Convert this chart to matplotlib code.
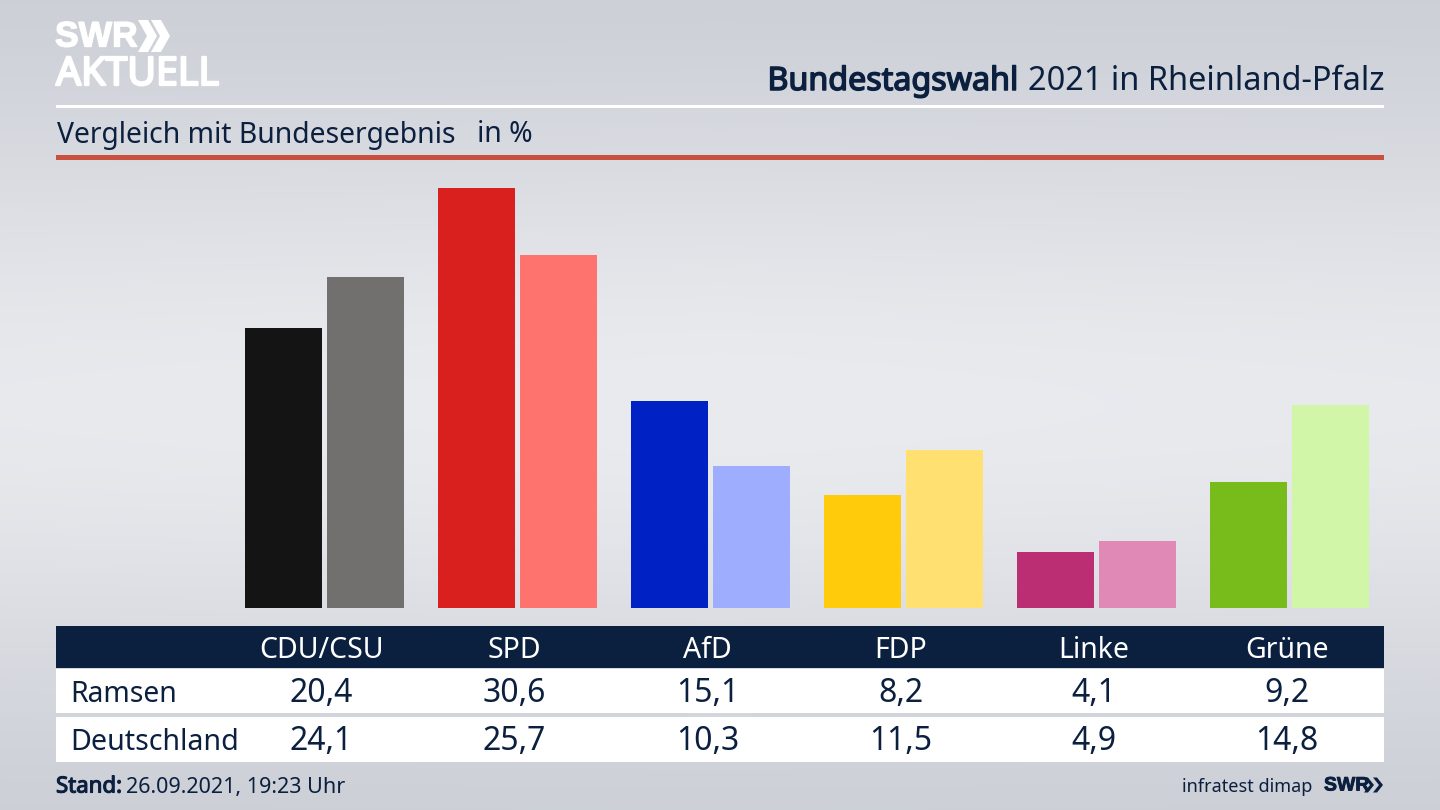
import numpy as np
import matplotlib as mpl
mpl.use("Agg")
from matplotlib import pyplot as plt
from matplotlib import patheffects as pe
from matplotlib.patches import Polygon, Rectangle

parties = ["CDU/CSU", "SPD", "AfD", "FDP", "Linke", "Grüne"]
ramsen = [20.4, 30.6, 15.1, 8.2, 4.1, 9.2]
deutschland = [24.1, 25.7, 10.3, 11.5, 4.9, 14.8]
ramsen_labels = ["20,4", "30,6", "15,1", "8,2", "4,1", "9,2"]
deutschland_labels = ["24,1", "25,7", "10,3", "11,5", "4,9", "14,8"]
colors_dark = ["#141414", "#d9201f", "#0021c4", "#ffcb0a", "#bb2e74", "#78bc1b"]
colors_light = ["#72706e", "#ff736e", "#9fadff", "#ffe070", "#e088b6", "#d2f6a8"]

NAVY = "#0b1f3f"
plt.rcParams['font.family'] = ['Noto Sans', 'DejaVu Sans']

W, H = 1440, 810
fig = plt.figure(figsize=(14.4, 8.1), dpi=100)


def fat(width, color):
    # Noto Sans kommt hier nur in normal, also fett per Kontur
    return [pe.withStroke(linewidth=width, foreground=color)]


# Hintergrund und alles ausser den Balken in Pixelkoordinaten
bg = fig.add_axes([0, 0, 1, 1])
bg.axis("off")
yy = np.linspace(0, 1, 270)[:, None]
xx = np.linspace(0, 1, 480)[None, :]
shade = np.exp(-((yy - 0.5) / 0.36) ** 2) * (1 - 0.12 * np.abs(xx - 0.5))
low = np.array([0xc8, 0xcc, 0xd3]) / 255
high = np.array([0xea, 0xeb, 0xef]) / 255
grad = low + shade[:, :, None] * (high - low)
bg.imshow(grad, extent=[0, W, H, 0], aspect="auto", zorder=0)

# Balken
px_per_group = 193.0
px_per_unit = 13.74
x0 = 324.8
y0 = 608
ax = fig.add_axes([0, 0, 1, 1])
ax.patch.set_alpha(0)
ax.axis("off")
ax.set_xlim(-x0 / px_per_group, (W - x0) / px_per_group)
ax.set_ylim(-(H - y0) / px_per_unit, y0 / px_per_unit)
pos = np.arange(len(parties))
bw = 77 / px_per_group
off = 41 / px_per_group
ax.bar(pos - off, ramsen, bw, color=colors_dark)
ax.bar(pos + off, deutschland, bw, color=colors_light)

# Kopf
over = fig.add_axes([0, 0, 1, 1])
over.patch.set_alpha(0)
over.axis("off")
over.set_xlim(0, W)
over.set_ylim(H, 0)

over.add_patch(Rectangle((56, 104.5), 1328, 3, color="white", lw=0))
over.add_patch(Rectangle((56, 155), 1328, 5, color="#c9503f", lw=0))

t2 = over.text(1384, 81.5, "2021 in Rheinland-Pfalz", ha="right", va="center", fontsize=23.4, color=NAVY)
fig.canvas.draw()
bb = t2.get_window_extent()
over.text(bb.x0 - 9, 81.5, "Bundestagswahl", ha="right", va="center", fontsize=23.2, color=NAVY,
          path_effects=fat(1.1, NAVY))
over.text(57, 135, "Vergleich mit Bundesergebnis", ha="left", va="center", fontsize=20.4, color=NAVY)
over.text(477, 135, "in %", ha="left", va="center", fontsize=20.4, color=NAVY)

# Logo
over.text(55, 37, "SWR", ha="left", va="center", fontsize=25.5, fontweight="bold", color="white",
          family="Liberation Sans", path_effects=fat(1.0, "white"))
over.text(56, 75, "AKTUELL", ha="left", va="center", fontsize=28.3, color="white",
          path_effects=fat(1.6, "white"))


def chevrons(xs, yc, h, w, t, color):
    for x in xs:
        over.add_patch(Polygon([(x, yc - h / 2), (x + t, yc - h / 2), (x + t + w, yc),
                                (x + t, yc + h / 2), (x, yc + h / 2), (x + w, yc)],
                               closed=True, color=color, lw=0))


chevrons([138, 151], 36, 32, 9, 10, "white")

# Tabelle
over.add_patch(Rectangle((56, 626), 1328, 42, color=NAVY, lw=0))
over.add_patch(Rectangle((56, 669), 1328, 44, color="white", lw=0))
over.add_patch(Rectangle((56, 717), 1328, 45, color="white", lw=0))
over.text(70, 694, "Ramsen", ha="left", va="center", fontsize=20.4, color=NAVY)
over.text(70, 743, "Deutschland", ha="left", va="center", fontsize=20.6, color=NAVY)
col_x = [321.5, 514.5, 707.5, 900.5, 1094, 1287]
for i in range(len(parties)):
    over.text(col_x[i], 650, parties[i], ha="center", va="center", fontsize=20.5, color="white")
    over.text(col_x[i], 693, ramsen_labels[i], ha="center", va="center", fontsize=23, color=NAVY)
    over.text(col_x[i], 742, deutschland_labels[i], ha="center", va="center", fontsize=23, color=NAVY)

# Fusszeile
over.text(56, 787, "Stand:", ha="left", va="center", fontsize=16, color=NAVY, path_effects=fat(0.8, NAVY))
over.text(126, 787, "26.09.2021, 19:23 Uhr", ha="left", va="center", fontsize=15.5, color=NAVY)
over.text(1312, 787, "infratest dimap", ha="right", va="center", fontsize=13, color=NAVY)
over.text(1324, 786, "SWR", ha="left", va="center", fontsize=14, fontweight="bold", color=NAVY,
          family="Liberation Sans", path_effects=fat(0.6, NAVY))
chevrons([1364, 1373], 785, 15, 6, 4, NAVY)

fig.savefig("out.png", dpi=100)
